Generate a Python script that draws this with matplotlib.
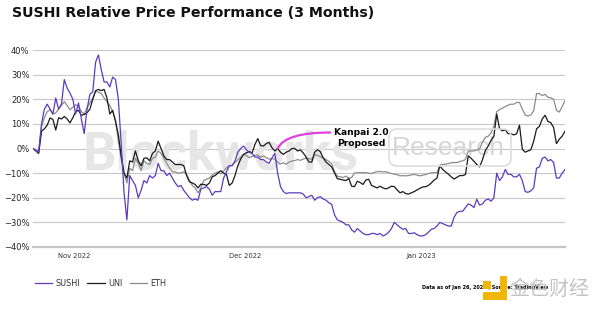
import pandas as pd
import matplotlib
matplotlib.use('Agg')
import matplotlib.pyplot as plt
from matplotlib.patches import FancyBboxPatch, Rectangle
from matplotlib.transforms import IdentityTransform

# 12-hourly relative performance (%) since the start date
start = '2022-10-24 18:00'

sushi = [0, -1, -1.5, 10, 16, 18, 16, 14, 20.5, 16,
         18, 28, 24.5, 22.5, 20, 14, 18.5, 12, 6, 16,
         22, 23, 35, 38, 32, 27, 27, 25, 29, 28,
         20, 2, -18, -29, -11, -13, -15, -20, -17, -13,
         -14, -11, -12, -11, -6, -9, -9, -11, -10, -12,
         -14, -15.5, -15, -17, -18.5, -20, -21, -20.5, -21, -16.5,
         -16, -15.5, -16.5, -19, -17.5, -17.5, -17.5, -12, -9.5, -7,
         -7, -5, -1.5, 0, 1, -0.5, -1.5, -2, -3.5, -3.5,
         -4.5, -4.5, -5.5, -6, -3.8, -2, -10, -15.5, -17.5, -18.3,
         -18, -18, -18, -18, -18, -18.5, -20, -19.5, -19, -21,
         -20, -19.5, -20.5, -21, -22, -22.7, -27, -29, -29.5, -30,
         -31, -31, -33, -34, -32.5, -33.5, -34.5, -35, -35, -34.5,
         -34.5, -35, -34.5, -35.5, -35, -34, -32.5, -30, -31, -32,
         -32.8, -32.5, -34.5, -34.5, -34.2, -35, -35.5, -35.5, -35, -34,
         -32.8, -32.5, -31.5, -30, -30.5, -31, -31.5, -31.5, -28, -26,
         -25.5, -25.5, -24, -22.5, -23, -24, -20.6, -23, -22.5, -21,
         -20.5, -21.4, -20, -10, -13, -11.5, -8.5, -10.5, -10.5, -11.5,
         -11.5, -10.5, -13, -17.5, -17.8, -17.2, -16, -8, -7.5, -4,
         -3.5, -5, -4.5, -5.7, -12, -12, -10, -8.5]

uni = [0, -1, -2, 7, 8, 9.5, 12.4, 11.8, 7.5, 12.5,
       12, 13, 12, 10.4, 12.5, 15, 15.5, 13.5, 13.8, 14.5,
       16, 20, 23.5, 24, 23.5, 24, 20.5, 14, 15.5, 11,
       5.5, -3, -10, -12, -5, -5.5, -1, -5, -7, -4,
       -3.8, -5, -2, -1, 3, 0, -3, -4.5, -4.5, -5.5,
       -6.5, -6.5, -6.5, -7, -11, -13.5, -14, -14.6, -16, -14.5,
       -14.6, -15, -14, -11.5, -11, -10, -9, -10, -10.5, -15,
       -14, -11, -7, -4.3, -2.4, -1.8, -1.2, -1.8, 1.6, 4,
       1.2, 1, 2, 2.5, 0.3, -1, 0, -1.5, -2.4, -1.5,
       -1, 0, 0, -1, -0.6, -1.8, -3.5, -5.5, -5.5, -1.5,
       -0.5, -1.3, -3.8, -5.5, -6.5, -7.5, -10, -12.3, -12.5, -12.8,
       -13, -12.2, -15.3, -15.5, -13.3, -13.8, -14.6, -12.8, -12.5, -15,
       -15.5, -16, -15.3, -16, -16.4, -16, -15.3, -15.5, -16.8, -18,
       -17.5, -18.3, -18.5, -18, -17.5, -16.8, -16.2, -15.6, -15.5, -15,
       -14, -12.8, -12, -7, -8.5, -9.5, -10.4, -11.5, -12.4, -11.7,
       -11, -11, -10.6, -3, -4, -5.2, -6.5, -7.5, -4.5, -0.8,
       1, 3.3, 5, 14, 8, 7.2, 7.6, 6, 6, 5.5,
       6, 9.5, -0.3, -1.5, -1, -0.5, 3, 8, 9, 12,
       13.5, 11, 10.5, 8.5, 2, 3.8, 5, 7]

eth = [0, -0.5, -1, 9, 12.5, 15, 15.7, 14, 14.5, 16,
       17.5, 19, 17.5, 15.7, 16.8, 17.8, 17, 15, 14, 16.5,
       18.5, 20.5, 23, 23, 22.3, 20.5, 19, 17.5, 15, 11.5,
       3, -4, -10, -14, -8, -9, -4, -6, -9, -5,
       -6, -6.5, -4, -3.5, -1, -2, -4, -6, -8, -9.5,
       -9.5, -10, -9.8, -9.5, -10.5, -13, -15, -16, -18, -16,
       -13, -12.5, -12, -10.8, -10, -9.5, -10.3, -9.2, -7.8, -7.1,
       -6.7, -5.7, -4.6, -3.6, -2.4, -2.9, -3.7, -3.2, -2.7, -2.6,
       -3.6, -3, -3.7, -4.3, -4.2, -4.2, -5.6, -6.3, -5.8, -6.4,
       -5.5, -5.1, -4.9, -4.5, -4.8, -4.3, -3.9, -4.2, -4.3, -2.5,
       -2.8, -3.4, -3.8, -4.5, -5.3, -6.2, -9.5, -11.3, -11.5, -11.8,
       -11.2, -12, -11.8, -10, -9.8, -9.8, -9.8, -9.8, -10, -10.2,
       -9.7, -9.4, -9.3, -9.5, -9.4, -9.8, -10.2, -10.4, -10.6, -11.1,
       -11, -11.1, -11, -10.7, -10.5, -10.8, -11.1, -10.8, -10.6, -10.2,
       -9.9, -9.8, -9.8, -6.8, -6.4, -6.4, -6.1, -5.8, -5.7, -5.7,
       -5.3, -5, -4.5, -1, -1, -1, -0.6, -0.2, 2.6, 4.5,
       5, 6.3, 9, 15, 15.8, 16.4, 17, 17.6, 18, 18,
       18.7, 18.7, 16, 13.6, 13.2, 13.7, 15.3, 22.3, 22.3, 21.5,
       22, 20.8, 20.6, 20, 15.5, 14.8, 17, 19.5]

tick_dates = ['2022-11-01', '2022-12-01', '2023-01-01']
tick_labels = ['Nov 2022', 'Dec 2022', 'Jan 2023']
y_ticks = [-40, -30, -20, -10, 0, 10, 20, 30, 40]

kanpai_date = '2022-12-06 18:00'
kanpai_label_end = '2022-12-16 00:00'

times = pd.date_range(start, periods=len(sushi), freq='12h')

fig = plt.figure(figsize=(6, 3.12), dpi=100)
ax = fig.add_axes([33 / 600, 1 - 247 / 312, (565 - 33) / 600, (247 - 50) / 312])
ax.patch.set_alpha(0)

# background watermark
ax.text(83 / 600, 1 - 169 / 312, 'Blockworks', transform=fig.transFigure,
        fontsize=38, fontweight='bold', color='#e6e6e6',
        family=['Roboto', 'Liberation Sans'],
        ha='left', va='baseline', zorder=1, clip_on=False)
box = FancyBboxPatch((389, 312 - 166), 122, 37, boxstyle='round,pad=0,rounding_size=8',
                     transform=IdentityTransform(), fc='none', ec='#dedede', lw=1.2, zorder=1)
fig.add_artist(box)
ax.text(448 / 600, 1 - 148 / 312, 'Research', transform=fig.transFigure,
        fontsize=19, color='#d6d6d6', family='Liberation Sans',
        ha='center', va='center', zorder=1, clip_on=False)

ax.plot(times, eth, color='#8c8c8c', lw=0.9, label='ETH', zorder=2)
ax.plot(times, uni, color='#1a1a1a', lw=0.9, label='UNI', zorder=3)
ax.plot(times, sushi, color='#5a3cc0', lw=0.9, label='SUSHI', zorder=4)

ax.set_xlim(times[0], times[-1])
ax.set_ylim(-40, 40)
ax.set_yticks(y_ticks)
ax.set_yticklabels([f'{v}%'.replace('-', '\u2212') for v in y_ticks])
ax.set_xticks(pd.to_datetime(tick_dates))
ax.set_xticklabels(tick_labels)
ax.tick_params(axis='y', length=0, pad=2.5, labelsize=6, labelcolor='#222222')
ax.tick_params(axis='x', length=0, pad=4.5, labelsize=4.9, labelcolor='#333333')
ax.yaxis.grid(True, color='#c8c8c8', lw=0.8)
ax.set_axisbelow(True)
for side in ['top', 'right', 'left']:
    ax.spines[side].set_visible(False)
ax.spines['bottom'].set_color('#c4c4c4')
ax.spines['bottom'].set_linewidth(1.6)

# Kanpai 2.0 annotation
ax.annotate('', xy=(pd.Timestamp(kanpai_date), 0), xytext=(pd.Timestamp(kanpai_label_end), 6.5),
            arrowprops=dict(arrowstyle='-', color='#e040e0', lw=1.6, shrinkA=0, shrinkB=0,
                            connectionstyle='angle3,angleA=0,angleB=65'), zorder=5)
ax.text(361 / 600, 1 - 138 / 312, 'Kanpai 2.0\nProposed', transform=fig.transFigure,
        fontsize=6.6, fontweight='bold', ha='center', va='center', linespacing=1.15, zorder=6)

fig.text(12 / 600, 1 - 13 / 312, 'SUSHI Relative Price Performance (3 Months)',
         fontsize=10.2, fontweight='bold', ha='left', va='center', color='#111111')

fig.legend(loc='center left', bbox_to_anchor=(35 / 600, 1 - 283 / 312), ncol=3,
           handles=ax.get_lines()[::-1], frameon=False, fontsize=5.9, handlelength=2.1,
           handletextpad=0.4, columnspacing=0.9, borderpad=0, borderaxespad=0,
           labelcolor='#333333')

fig.text(422 / 600, 1 - 288 / 312, 'Data as of Jan 26, 2023 | Source: TradingView',
         fontsize=3.5, fontweight='bold', ha='left', va='center')

# site logo overlay
for x0, y0, w, h in [(500, 276, 7, 24), (483, 292, 24, 8), (483, 281, 8, 8)]:
    fig.add_artist(Rectangle((x0, 312 - y0 - h), w, h, transform=IdentityTransform(),
                             fc='#f2b705', ec='none', zorder=10))
fig.text(549 / 600, 1 - 289 / 312, '金色财经', fontsize=14.4, color='#c4c4c4',
         family=['Noto Sans CJK SC', 'DejaVu Sans'], ha='center', va='center', zorder=10)

fig.savefig('out.png', dpi=100)
